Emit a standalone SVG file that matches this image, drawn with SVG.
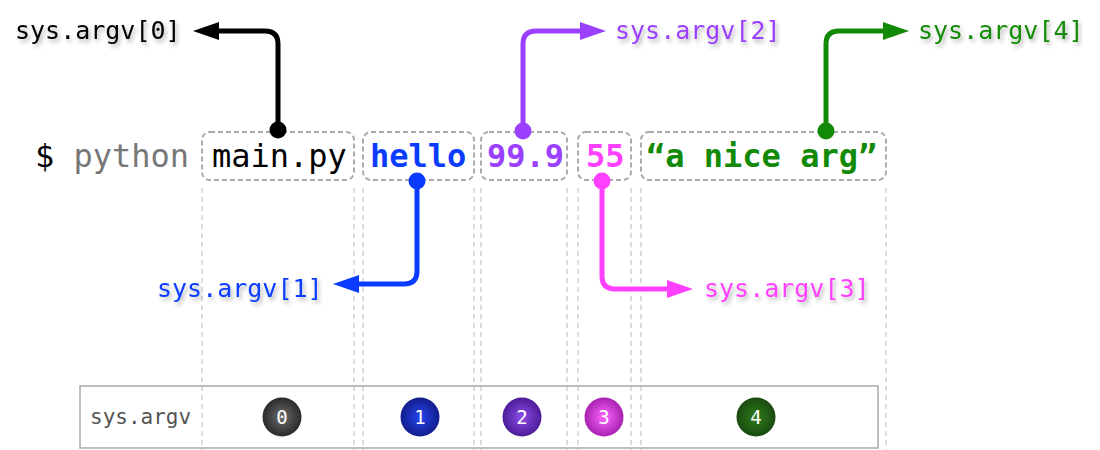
<svg xmlns="http://www.w3.org/2000/svg" width="1100" height="450" viewBox="0 0 1100 450">
<style>
.mono{font-family:"DejaVu Sans Mono","Liberation Mono",monospace}
.cmd{font-size:32px}
.b{font-weight:bold}
.lbl{font-size:25px;filter:url(#shadow)}
.box{fill:none;stroke:#aaa;stroke-width:2;stroke-dasharray:5 3}
.guide{stroke:#bbb;stroke-width:1;stroke-dasharray:5 4}
.conn{fill:none;stroke-width:5}
.num{font-size:19px;fill:#fff;text-anchor:middle}
</style>
<defs>
<filter id="shadow" x="-10%" y="-30%" width="130%" height="180%">
<feDropShadow dx="2" dy="3" stdDeviation="2" flood-color="#000" flood-opacity="0.3"/>
</filter>
<marker id="a0" viewBox="0 0 26 18" refX="1" refY="9" markerWidth="26" markerHeight="18" markerUnits="userSpaceOnUse" orient="auto"><path d="M0,0 L26,9 L0,18 z" fill="#000"/></marker>
<marker id="a1" viewBox="0 0 26 18" refX="1" refY="9" markerWidth="26" markerHeight="18" markerUnits="userSpaceOnUse" orient="auto"><path d="M0,0 L26,9 L0,18 z" fill="#0a3cff"/></marker>
<marker id="a2" viewBox="0 0 26 18" refX="1" refY="9" markerWidth="26" markerHeight="18" markerUnits="userSpaceOnUse" orient="auto"><path d="M0,0 L26,9 L0,18 z" fill="#9b40ff"/></marker>
<marker id="a3" viewBox="0 0 26 18" refX="1" refY="9" markerWidth="26" markerHeight="18" markerUnits="userSpaceOnUse" orient="auto"><path d="M0,0 L26,9 L0,18 z" fill="#ff40ff"/></marker>
<marker id="a4" viewBox="0 0 26 18" refX="1" refY="9" markerWidth="26" markerHeight="18" markerUnits="userSpaceOnUse" orient="auto"><path d="M0,0 L26,9 L0,18 z" fill="#138a07"/></marker>
<radialGradient id="g0" cx="50%" cy="50%" r="50%"><stop offset="0" stop-color="#6e6e6e"/><stop offset="1" stop-color="#2a2a2a"/></radialGradient>
<radialGradient id="g1" cx="50%" cy="50%" r="50%"><stop offset="0" stop-color="#2444ee"/><stop offset="1" stop-color="#121e8c"/></radialGradient>
<radialGradient id="g2" cx="50%" cy="50%" r="50%"><stop offset="0" stop-color="#8c4ce6"/><stop offset="1" stop-color="#4c1c98"/></radialGradient>
<radialGradient id="g3" cx="50%" cy="50%" r="50%"><stop offset="0" stop-color="#ff66ff"/><stop offset="1" stop-color="#a822b0"/></radialGradient>
<radialGradient id="g4" cx="50%" cy="50%" r="50%"><stop offset="0" stop-color="#2f7d1c"/><stop offset="1" stop-color="#1a4a10"/></radialGradient>
</defs>
<rect width="1100" height="450" fill="#fff"/>

<g id="guides">
<line class="guide" x1="202" y1="188" x2="202" y2="450"/>
<line class="guide" x1="354" y1="188" x2="354" y2="450"/>
<line class="guide" x1="363" y1="188" x2="363" y2="450"/>
<line class="guide" x1="474" y1="188" x2="474" y2="450"/>
<line class="guide" x1="481" y1="188" x2="481" y2="450"/>
<line class="guide" x1="567" y1="188" x2="567" y2="450"/>
<line class="guide" x1="578" y1="188" x2="578" y2="450"/>
<line class="guide" x1="631" y1="188" x2="631" y2="450"/>
<line class="guide" x1="641" y1="188" x2="641" y2="450"/>
<line class="guide" x1="886" y1="188" x2="886" y2="450"/>
</g>

<g id="prompt">
<text class="mono cmd" x="35" y="167"><tspan fill="#000">$</tspan><tspan fill="#777"> python</tspan></text>
</g>
<g id="arg0">
<rect class="box" x="202" y="132" width="152" height="48" rx="8"/>
<text class="mono cmd" x="212" y="167" fill="#000">main.py</text>
</g>
<g id="arg1">
<rect class="box" x="363" y="132" width="111" height="48" rx="8"/>
<text class="mono cmd b" x="370" y="167" fill="#0a3cff">hello</text>
</g>
<g id="arg2">
<rect class="box" x="481" y="132" width="86" height="48" rx="8"/>
<text class="mono cmd b" x="487" y="167" fill="#9b40ff">99.9</text>
</g>
<g id="arg3">
<rect class="box" x="578" y="132" width="53" height="48" rx="8"/>
<text class="mono cmd b" x="586" y="167" fill="#ff40ff">55</text>
</g>
<g id="arg4">
<rect class="box" x="641" y="132" width="245" height="48" rx="8"/>
<text class="mono cmd b" x="646" y="167" fill="#138a07">“a nice arg”</text>
</g>

<g id="label0"><text class="mono lbl" x="15" y="39" fill="#000">sys.argv[0]</text></g>
<g id="label1"><text class="mono lbl" x="157" y="297" fill="#0a3cff">sys.argv[1]</text></g>
<g id="label2"><text class="mono lbl" x="615" y="39" fill="#9b40ff">sys.argv[2]</text></g>
<g id="label3"><text class="mono lbl" x="704" y="297" fill="#ff40ff">sys.argv[3]</text></g>
<g id="label4"><text class="mono lbl" x="918" y="39" fill="#138a07">sys.argv[4]</text></g>

<g id="connectors">
<path class="conn" stroke="#000" d="M278,131 V44 Q278,31 265,31 H218" marker-end="url(#a0)"/>
<circle cx="278" cy="130" r="8.5" fill="#000"/>
<path class="conn" stroke="#0a3cff" d="M417,181 V271 Q417,284 404,284 H358" marker-end="url(#a1)"/>
<circle cx="417" cy="181" r="8.5" fill="#0a3cff"/>
<path class="conn" stroke="#9b40ff" d="M523,131 V44 Q523,31 536,31 H581" marker-end="url(#a2)"/>
<circle cx="523" cy="131" r="8.5" fill="#9b40ff"/>
<path class="conn" stroke="#ff40ff" d="M602,181 V276 Q602,289 615,289 H668" marker-end="url(#a3)"/>
<circle cx="602" cy="181" r="8.5" fill="#ff40ff"/>
<path class="conn" stroke="#138a07" d="M826,131 V44 Q826,31 839,31 H884" marker-end="url(#a4)"/>
<circle cx="826" cy="131" r="8.5" fill="#138a07"/>
</g>

<g id="table">
<rect x="80" y="386" width="798" height="62" fill="none" stroke="#aaa" stroke-width="1.5"/>
<text class="mono" x="90" y="424" font-size="21" fill="#555">sys.argv</text>
</g>
<g id="idx0"><circle cx="282" cy="417" r="19.5" fill="url(#g0)"/><text class="mono num" x="282" y="424">0</text></g>
<g id="idx1"><circle cx="420" cy="417" r="19.5" fill="url(#g1)"/><text class="mono num" x="420" y="424">1</text></g>
<g id="idx2"><circle cx="522" cy="417" r="19.5" fill="url(#g2)"/><text class="mono num" x="522" y="424">2</text></g>
<g id="idx3"><circle cx="604" cy="417" r="19.5" fill="url(#g3)"/><text class="mono num" x="604" y="424">3</text></g>
<g id="idx4"><circle cx="756" cy="417" r="19.5" fill="url(#g4)"/><text class="mono num" x="756" y="424">4</text></g>
</svg>
